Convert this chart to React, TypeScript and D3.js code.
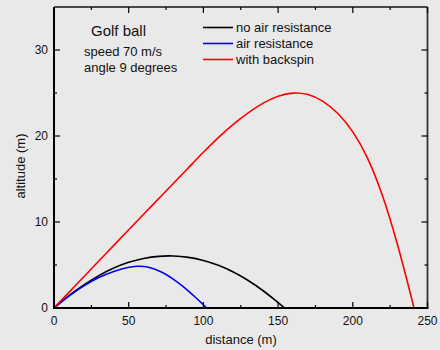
import * as d3 from "d3";

type Pt = [number, number];

// (distance m, altitude m)
const noAir: Pt[] = [
  [0, 0], [10, 1.47], [20, 2.72], [30, 3.8], [40, 4.68], [50, 5.34], [60, 5.8],
  [70, 6.04], [80, 6.08], [90, 5.92], [100, 5.56], [110, 5.0], [120, 4.22],
  [130, 3.24], [140, 2.04], [150, 0.64], [154.3, 0],
];
const withAir: Pt[] = [
  [0, 0], [10, 1.42], [20, 2.62], [30, 3.58], [40, 4.3], [50, 4.76], [56, 4.88],
  [60, 4.85], [65, 4.67], [70, 4.36], [75, 3.92], [80, 3.34], [85, 2.7],
  [90, 1.98], [95, 1.2], [100, 0.38], [102.2, 0],
];
const backspin: Pt[] = [
  [0, 0], [10, 1.82], [20, 3.64], [30, 5.46], [40, 7.28], [50, 9.1], [60, 10.9],
  [70, 12.7], [80, 14.5], [90, 16.3], [100, 18.12], [110, 19.84], [120, 21.4],
  [130, 22.72], [140, 23.88], [150, 24.7], [160, 25.07], [170, 24.93],
  [180, 24.13], [190, 22.73], [200, 20.63], [210, 17.6], [220, 13.2],
  [230, 7.5], [241, 0],
];

const series = [
  { name: "no air resistance", color: "#000000", data: noAir },
  { name: "air resistance", color: "#0000ff", data: withAir },
  { name: "with backspin", color: "#ff0000", data: backspin },
];

const xMajor = [0, 50, 100, 150, 200, 250];
const xMinor = [25, 75, 125, 175, 225];
const yMajor = [0, 10, 20, 30];
const yMinor = [5, 15, 25];

const W = 440;
const H = 350;
const L = 54;
const R = 427.5;
const T = 7;
const B = 308;
const font = "Arial, 'Liberation Sans', sans-serif";

export default function App() {
  const x = d3.scaleLinear([0, 250], [L, R]);
  const y = d3.scaleLinear([0, 35], [B, T]);
  const line = d3
    .line<Pt>()
    .x((d) => x(d[0]))
    .y((d) => y(d[1]))
    .curve(d3.curveBasis);

  return (
    <svg
      width={W}
      height={H}
      viewBox={`0 0 ${W} ${H}`}
      style={{ position: "absolute", left: 0, top: 0, display: "block" }}
      fontFamily={font}
    >
      <rect x={0} y={0} width={W} height={H} fill="#e9e9e9" />
      <defs>
        <clipPath id="plot-clip">
          <rect x={L} y={T} width={R - L} height={B - T} />
        </clipPath>
      </defs>

      {/* curves */}
      <g clipPath="url(#plot-clip)">
        {series.map((s) => (
          <path
            key={s.name}
            d={line(s.data) ?? ""}
            fill="none"
            stroke={s.color}
            strokeWidth={1.6}
          />
        ))}
      </g>

      {/* frame */}
      <line x1={L} y1={T} x2={R} y2={T} stroke="#111" strokeWidth={1.5} />
      <line x1={R} y1={T} x2={R} y2={B} stroke="#333" strokeWidth={1.8} />
      <line x1={L} y1={T} x2={L} y2={B + 1} stroke="#000" strokeWidth={2} />
      <line x1={L - 1} y1={B} x2={R + 1} y2={B} stroke="#000" strokeWidth={2} />

      {/* x ticks */}
      {xMajor.map((t) => (
        <g key={`xM${t}`}>
          <line x1={x(t)} y1={B} x2={x(t)} y2={B - 6} stroke="#000" strokeWidth={1.2} />
          <line x1={x(t)} y1={T} x2={x(t)} y2={T + 6} stroke="#000" strokeWidth={1.2} />
          <text x={x(t)} y={B + 17} textAnchor="middle" fontSize={12} fill="#111">
            {t}
          </text>
        </g>
      ))}
      {xMinor.map((t) => (
        <g key={`xm${t}`}>
          <line x1={x(t)} y1={B} x2={x(t)} y2={B - 3} stroke="#000" strokeWidth={1.2} />
          <line x1={x(t)} y1={T} x2={x(t)} y2={T + 3} stroke="#000" strokeWidth={1.2} />
        </g>
      ))}

      {/* y ticks */}
      {yMajor.map((t) => (
        <g key={`yM${t}`}>
          <line x1={L} y1={y(t)} x2={L + 6} y2={y(t)} stroke="#000" strokeWidth={1.2} />
          <line x1={R} y1={y(t)} x2={R - 6} y2={y(t)} stroke="#000" strokeWidth={1.2} />
          <text x={L - 6} y={y(t) + 4.3} textAnchor="end" fontSize={12} fill="#111">
            {t}
          </text>
        </g>
      ))}
      {yMinor.map((t) => (
        <g key={`ym${t}`}>
          <line x1={L} y1={y(t)} x2={L + 3} y2={y(t)} stroke="#000" strokeWidth={1.2} />
          <line x1={R} y1={y(t)} x2={R - 3} y2={y(t)} stroke="#000" strokeWidth={1.2} />
        </g>
      ))}

      {/* axis titles */}
      <text x={241} y={344} textAnchor="middle" fontSize={13} fill="#111">
        distance (m)
      </text>
      <text
        x={0}
        y={0}
        transform={`translate(25 ${166}) rotate(-90)`}
        textAnchor="middle"
        fontSize={13}
        fill="#111"
      >
        altitude (m)
      </text>

      {/* annotation */}
      <text x={91} y={36} fontSize={15} fill="#111">
        Golf ball
      </text>
      <text x={84} y={56} fontSize={13} fill="#111">
        speed 70 m/s
      </text>
      <text x={84} y={72} fontSize={13} fill="#111">
        angle 9 degrees
      </text>

      {/* legend */}
      {series.map((s, i) => (
        <g key={`lg${s.name}`}>
          <line
            x1={203}
            x2={233}
            y1={27.5 + i * 16}
            y2={27.5 + i * 16}
            stroke={s.color}
            strokeWidth={1.6}
          />
          <text x={236} y={32 + i * 16} fontSize={13} fill="#111">
            {s.name}
          </text>
        </g>
      ))}
    </svg>
  );
}
